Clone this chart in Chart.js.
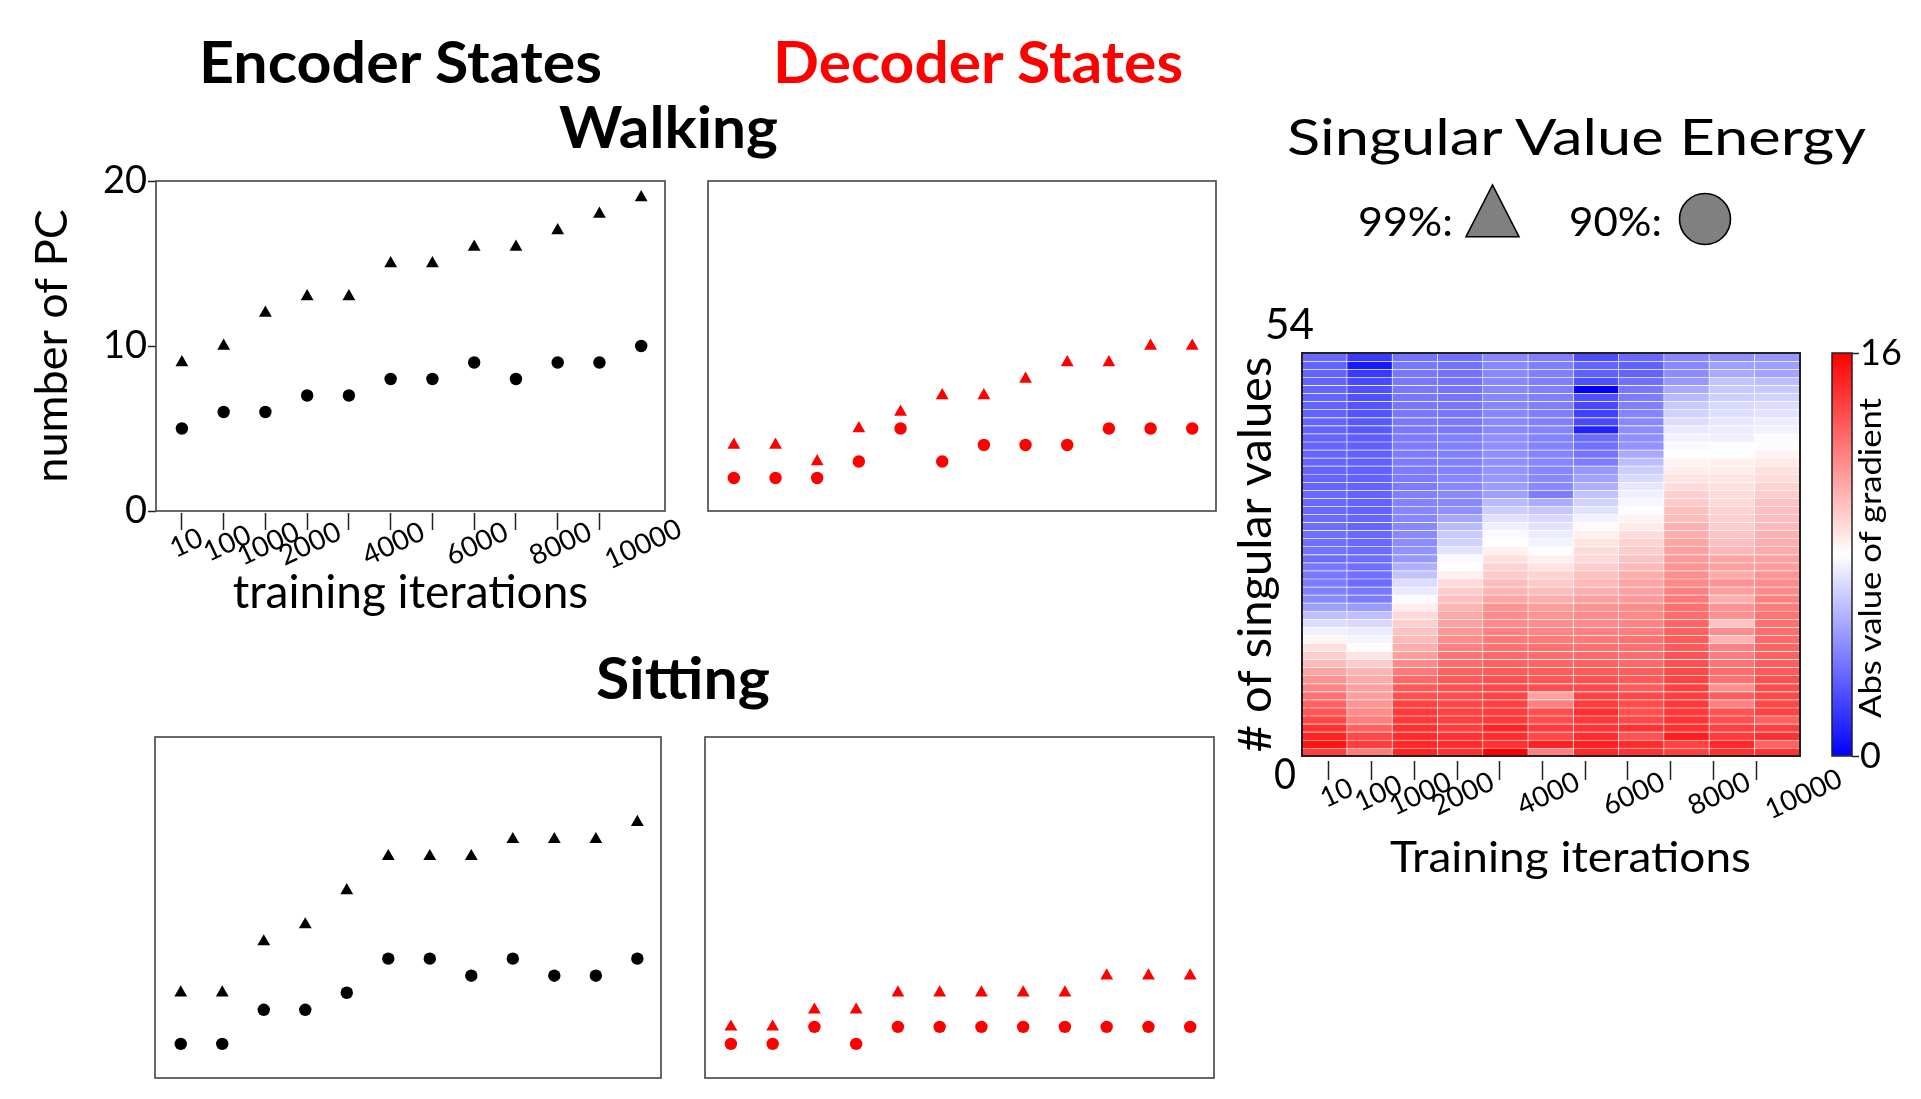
<!DOCTYPE html>
<html>
<head>
<meta charset="utf-8">
<script src="https://cdn.jsdelivr.net/npm/chart.js@4.4.1/dist/chart.umd.min.js"></script>
<style>
    body { margin: 0; background: #fff; }
    #wrap { position: relative; width: 1921px; height: 1099px; overflow: hidden; background: #fff; }
    #wrap canvas { position: absolute; }
    #overlay { position: absolute; left: 0; top: 0; z-index: 5; pointer-events: none; }
</style>
</head>
<body>
<div id="wrap">
    <canvas id="walkEnc" width="700" height="480" style="left:0px;top:150px"></canvas>
    <canvas id="walkDec" width="540" height="360" style="left:700px;top:170px"></canvas>
    <canvas id="sitEnc" width="540" height="379" style="left:140px;top:720px"></canvas>
    <canvas id="sitDec" width="540" height="379" style="left:690px;top:720px"></canvas>
    <canvas id="heat" width="680" height="600" style="left:1200px;top:300px"></canvas>
    <canvas id="cbar" width="100" height="500" style="left:1820px;top:300px"></canvas>
    <svg id="overlay" width="1921" height="1099"></svg>
</div>
<script>
// training iterations on the x axis (12 checkpoints), only some are labelled
const iterLabels = ['10', '100', '1000', '2000', '3000', '4000', '5000', '6000', '7000', '8000', '9000', '10000'];
const iterTickText = ['10', '100', '1000', '2000', '', '4000', '', '6000', '', '8000', '', '10000'];
const pcTicks = [0, 10, 20];

// number of PCs needed for 99% (triangles) and 90% (circles) of the energy
const walkEnc99 = [9, 10, 12, 13, 13, 15, 15, 16, 16, 17, 18, 19];
const walkEnc90 = [5, 6, 6, 7, 7, 8, 8, 9, 8, 9, 9, 10];
const walkDec99 = [4, 4, 3, 5, 6, 7, 7, 8, 9, 9, 10, 10];
const walkDec90 = [2, 2, 2, 3, 5, 3, 4, 4, 4, 5, 5, 5];
const sitEnc99 = [5, 5, 8, 9, 11, 13, 13, 13, 14, 14, 14, 15];
const sitEnc90 = [2, 2, 4, 4, 5, 7, 7, 6, 7, 6, 6, 7];
const sitDec99 = [3, 3, 4, 4, 5, 5, 5, 5, 5, 6, 6, 6];
const sitDec90 = [2, 2, 3, 2, 3, 3, 3, 3, 3, 3, 3, 3];

// heatmap: abs value of gradient per singular value, one array per column,
// listed from the top row (largest index) down to the bottom row
const gradMax = 16;
const svTopLabel = '54';
const svCol1 = [3.3, 3.1, 3.1, 3.1, 3.1, 3.1, 3.1, 3.1, 3.1, 3.1, 3.2, 3.2, 3.2, 3.2, 3.2, 3.2, 3.2, 3.3, 3.3, 3.3, 3.4, 3.4, 3.5, 3.5, 3.6,
    3.4, 3.8, 3.8, 3.9, 4.0, 4.3, 5.0, 6.0, 6.9, 7.5, 8.3, 9.0, 9.6, 10.2, 10.9, 11.4, 11.9, 12.5, 12.9, 13.3, 13.8, 14.5, 14.9, 15.4, 14.0];
const svCol2 = [1.8, 0.75, 1.8, 2.3, 2.5, 2.5, 2.6, 2.6, 2.75, 2.75, 2.9, 3.0, 3.0, 3.0, 3.0, 3.1, 3.1, 3.1, 3.1, 3.1, 3.2, 3.2, 3.3, 3.3, 3.4,
    3.45, 3.5, 3.55, 3.4, 3.75, 3.9, 4.8, 6.0, 6.8, 7.4, 7.65, 8.1, 8.9, 9.65, 10.35, 10.7, 11.0, 11.1, 11.35, 11.6, 12.0, 13.0, 13.75, 14.1, 12.1];
const svCol3 = [3.6, 3.75, 3.75, 3.75, 3.75, 3.75, 3.75, 3.75, 3.75, 3.8, 3.9, 3.9, 3.9, 3.9, 3.9, 3.9, 3.9, 4.0, 4.1, 4.25, 4.25, 4.25, 4.3, 4.4, 4.6,
    4.75, 5.5, 6.1, 6.9, 7.3, 7.9, 8.6, 9.2, 9.5, 9.9, 10.2, 10.6, 11.1, 11.7, 12.2, 12.7, 13.2, 13.5, 13.9, 14.2, 14.2, 14.5, 14.6, 14.7, 14.9];
const svCol4 = [3.5, 3.6, 3.6, 3.6, 3.6, 3.65, 3.7, 3.7, 3.75, 3.75, 4.0, 4.0, 4.0, 4.0, 4.1, 4.25, 4.25, 4.3, 4.3, 4.5, 5.2, 5.8, 6.3, 6.6, 7.1,
    7.8, 8.0, 8.5, 9.1, 9.6, 10.0, 10.4, 10.7, 11.0, 11.3, 11.6, 12.0, 12.4, 12.6, 13.0, 13.2, 13.5, 13.6, 13.7, 13.9, 14.0, 14.1, 14.4, 14.6, 14.4];
const svCol5 = [4.25, 4.25, 4.25, 4.25, 4.25, 4.25, 4.25, 4.25, 4.25, 4.3, 4.5, 4.5, 4.5, 4.5, 4.6, 4.7, 4.9, 5.0, 5.8, 6.4, 7.0, 7.5, 7.85, 8.0, 8.5,
    9.0, 9.4, 9.7, 10.1, 10.4, 10.9, 11.4, 11.6, 11.7, 12.0, 12.2, 12.5, 12.7, 13.0, 13.2, 13.5, 13.7, 13.9, 14.0, 14.1, 14.2, 14.9, 14.6, 14.4, 16.0];
const svCol6 = [4.0, 4.0, 4.0, 4.0, 4.0, 4.0, 4.0, 4.0, 4.0, 4.1, 4.1, 4.1, 4.1, 4.2, 4.2, 4.3, 4.3, 3.9, 5.4, 6.2, 6.8, 7.1, 7.4, 7.6, 8.1,
    8.5, 8.9, 9.4, 9.7, 10.1, 10.6, 11.1, 11.4, 11.6, 11.9, 12.2, 12.5, 12.6, 12.9, 13.1, 13.3, 13.6, 11.0, 12.0, 13.5, 13.6, 14.2, 13.7, 15.0, 12.0];
const svCol7 = [2.4, 3.1, 3.0, 2.5, 0.0, 2.5, 2.25, 2.0, 2.25, 1.0, 3.4, 3.5, 3.6, 3.9, 4.75, 5.1, 5.5, 6.1, 6.6, 7.1, 7.6, 8.2, 8.5, 8.9, 9.1,
    9.2, 9.6, 10.0, 10.2, 10.5, 11.0, 11.4, 11.6, 11.7, 12.0, 12.2, 12.5, 12.7, 13.0, 13.2, 13.4, 13.7, 13.9, 14.1, 14.5, 14.2, 14.4, 14.6, 15.0, 14.7];
const svCol8 = [3.25, 3.0, 3.1, 3.5, 3.75, 3.9, 4.0, 4.15, 4.25, 4.4, 4.5, 4.6, 5.3, 5.9, 6.4, 6.8, 7.2, 7.5, 7.75, 7.9, 8.4, 8.7, 9.1, 9.4, 9.6,
    9.9, 10.2, 10.6, 10.9, 11.0, 11.2, 11.6, 11.7, 11.9, 12.1, 12.5, 12.5, 12.6, 12.7, 13.1, 13.2, 13.1, 13.7, 13.6, 13.5, 13.7, 14.4, 13.4, 14.6, 14.4];
const svCol9 = [4.25, 4.25, 4.4, 4.75, 5.3, 5.8, 6.3, 6.6, 6.9, 7.3, 7.6, 7.8, 8.0, 8.4, 8.6, 8.9, 9.1, 9.5, 9.7, 10.0, 10.1, 10.5, 10.6, 10.9, 11.0,
    11.2, 11.4, 11.5, 11.7, 12.0, 12.2, 12.5, 12.6, 12.9, 13.0, 13.1, 13.2, 13.4, 13.5, 13.7, 13.9, 14.0, 14.1, 14.2, 14.2, 14.4, 14.5, 15.1, 13.9, 14.0];
const svCol10 = [4.5, 5.0, 5.3, 6.1, 6.3, 6.5, 6.8, 7.0, 7.25, 7.4, 7.5, 7.95, 8.0, 8.5, 8.6, 8.9, 9.0, 9.1, 9.2, 9.4, 9.55, 9.6, 9.9, 10.0, 10.25,
    10.9, 11.0, 10.7, 11.4, 11.1, 10.6, 11.4, 11.5, 9.9, 11.6, 10.4, 12.0, 12.1, 12.4, 12.6, 12.5, 11.5, 13.1, 12.0, 13.4, 13.5, 14.0, 14.1, 14.7, 14.5];
const svCol11 = [4.75, 5.0, 5.1, 5.9, 6.3, 6.6, 6.9, 7.1, 7.4, 7.6, 7.85, 8.1, 8.4, 8.7, 9.0, 9.1, 9.4, 9.6, 9.9, 10.0, 10.1, 10.2, 10.5, 10.6, 10.7,
    11.0, 11.1, 11.4, 11.6, 11.7, 12.0, 12.1, 12.4, 12.5, 12.6, 12.7, 12.9, 13.0, 13.1, 13.2, 13.5, 13.6, 13.7, 13.7, 13.9, 13.0, 14.0, 14.5, 12.9, 14.4];
const svColumns = [svCol1, svCol2, svCol3, svCol4, svCol5, svCol6, svCol7, svCol8, svCol9, svCol10, svCol11];

const fontFamily = 'Lato, "Noto Sans", sans-serif';
Chart.defaults.font.family = fontFamily;
Chart.defaults.color = '#000';

// blue-white-red colour map
function bwr(v) {
    const t = Math.max(0, Math.min(1, v / gradMax));
    if (t < 0.5) {
        const c = Math.round(510 * t);
        return `rgb(${c},${c},255)`;
    }
    const c = Math.round(510 * (1 - t));
    return `rgb(255,${c},${c})`;
}

// rotated tick labels are right aligned by Chart.js; trailing spaces make
// the short ones sit centred on their tick like the long ones
const tickFontSize = 28;
const measure = document.createElement('canvas').getContext('2d');
measure.font = tickFontSize + 'px ' + fontFamily;
const longestTick = Math.max(...iterTickText.map(t => measure.measureText(t).width));
const spaceWidth = measure.measureText(' ').width;
const tickShift = Math.cos(25 * Math.PI / 180) * longestTick / 2;
function centredTick(v, i) {
    const t = iterTickText[i];
    if (!t) return '';
    const n = Math.round((longestTick - measure.measureText(t).width) / 2 / spaceWidth);
    return t + ' '.repeat(n);
}

// box round the plot area
const framePlugin = {
    id: 'frame',
    afterDraw(chart, args, opts) {
        const { ctx, chartArea: a } = chart;
        ctx.save();
        ctx.strokeStyle = opts.color || '#444';
        ctx.lineWidth = opts.width || 1.5;
        ctx.strokeRect(a.left, a.top, a.right - a.left, a.bottom - a.top);
        ctx.restore();
    }
};

function markerSet(values, style, color) {
    return {
        data: values.map((v, i) => ({ x: i + 1, y: v })),
        pointStyle: style,
        pointRadius: style === 'triangle' ? 7.4 : 6.2,
        backgroundColor: color,
        borderColor: color,
        borderWidth: 0
    };
}

function iterTicks(scale) {
    scale.ticks = iterLabels.map((_, i) => ({ value: i + 1 }));
}

function pcChart(id, tri, dot, color, padding, withAxes) {
    const xAxis = { type: 'linear', min: 0.38, max: 12.57, display: false };
    const yAxis = { type: 'linear', min: 0, max: 20, display: false };
    if (withAxes) {
        Object.assign(xAxis, {
            display: true,
            afterBuildTicks: iterTicks,
            afterFit: s => { s.height = 119; },
            border: { display: false },
            grid: {
                drawOnChartArea: false, tickLength: 19, tickWidth: 1.5,
                tickBorderDash: [17, 100], tickBorderDashOffset: 115,
                tickColor: c => (c.index === iterLabels.length - 1 ? 'rgba(0,0,0,0)' : '#222')
            },
            ticks: {
                autoSkip: false, minRotation: 25, maxRotation: 25, padding: -18, labelOffset: tickShift + 2,
                font: { size: tickFontSize }, callback: centredTick
            },
            title: { display: true, text: 'training iterations', font: { size: 46 }, padding: { top: 0, bottom: 9 } }
        });
        Object.assign(yAxis, {
            display: true,
            afterBuildTicks: s => { s.ticks = pcTicks.map(v => ({ value: v })); },
            afterFit: s => { s.width = 156; },
            border: { display: false },
            grid: { drawOnChartArea: false, tickLength: 8, tickWidth: 1.5, tickColor: '#222' },
            ticks: { font: { size: 38 }, padding: 1 },
            title: { display: true, text: 'number of PC', font: { size: 45 }, padding: { top: 25, bottom: 0 } }
        });
    }
    return new Chart(document.getElementById(id), {
        type: 'scatter',
        data: { datasets: [markerSet(tri, 'triangle', color), markerSet(dot, 'circle', color)] },
        options: {
            responsive: false,
            animation: false,
            events: [],
            layout: { padding: padding },
            plugins: { legend: { display: false }, tooltip: { enabled: false }, frame: { color: '#444', width: 1.6 } },
            scales: { x: xAxis, y: yAxis }
        },
        plugins: [framePlugin]
    });
}

pcChart('walkEnc', walkEnc99, walkEnc90, '#000', { top: 31, right: 35, left: 0, bottom: 0 }, true);
pcChart('walkDec', walkDec99, walkDec90, '#ff0000', { top: 11, right: 24, left: 8, bottom: 19 }, false);
pcChart('sitEnc', sitEnc99, sitEnc90, '#000', { top: 17, right: 19, left: 15, bottom: 21 }, false);
pcChart('sitDec', sitDec99, sitDec90, '#ff0000', { top: 17, right: 16, left: 15, bottom: 21 }, false);

// heatmap as stacked bars, one dataset per singular value row (bottom first)
const svRows = svCol1.length;
const heatSets = [];
for (let r = 0; r < svRows; r++) {
    heatSets.push({
        data: svColumns.map(() => 1),
        backgroundColor: svColumns.map(col => bwr(col[svRows - 1 - r])),
        borderColor: 'rgba(255,255,255,0.13)',
        borderWidth: { top: 1, right: 1, bottom: 0, left: 0 },
        borderSkipped: false,
        barPercentage: 1,
        categoryPercentage: 1
    });
}

new Chart(document.getElementById('heat'), {
    type: 'bar',
    data: { labels: svColumns.map((_, i) => 'c' + (i + 1)), datasets: heatSets },
    options: {
        responsive: false,
        animation: false,
        events: [],
        layout: { padding: { top: 53, right: 80, left: 0, bottom: 0 } },
        plugins: { legend: { display: false }, tooltip: { enabled: false }, frame: { color: '#222', width: 2 } },
        scales: {
            x: { stacked: true, display: false },
            xIter: {
                type: 'linear', position: 'bottom', min: 0.368, max: 12.03, offset: false,
                afterBuildTicks: iterTicks,
                afterFit: s => { s.height = 144; },
                border: { display: false },
                grid: {
                    offset: false, drawOnChartArea: false, tickLength: 24, tickWidth: 1.5,
                    tickBorderDash: [19, 100], tickBorderDashOffset: 114,
                    tickColor: c => (c.index === iterLabels.length - 1 ? 'rgba(0,0,0,0)' : '#222')
                },
                ticks: {
                    autoSkip: false, minRotation: 25, maxRotation: 25, padding: -18, labelOffset: tickShift + 5,
                    font: { size: tickFontSize }, callback: centredTick
                }
            },
            y: {
                stacked: true, min: 0, max: svRows,
                afterFit: s => { s.width = 102; },
                border: { display: false },
                grid: { display: false },
                ticks: { display: false },
                title: { display: true, text: '# of singular values', font: { size: 47 }, padding: { top: 28, bottom: 0 } }
            }
        }
    },
    plugins: [framePlugin]
});

// colour bar
new Chart(document.getElementById('cbar'), {
    type: 'bar',
    data: {
        labels: ['grad'],
        datasets: [{
            data: [gradMax],
            barPercentage: 1,
            categoryPercentage: 1,
            backgroundColor: c => {
                const a = c.chart.chartArea;
                if (!a) return '#fff';
                const g = c.chart.ctx.createLinearGradient(0, a.bottom, 0, a.top);
                g.addColorStop(0, bwr(0));
                g.addColorStop(0.5, bwr(gradMax / 2));
                g.addColorStop(1, bwr(gradMax));
                return g;
            }
        }]
    },
    options: {
        responsive: false,
        animation: false,
        events: [],
        layout: { padding: { top: 53, right: 0, left: 12, bottom: 44 } },
        plugins: { legend: { display: false }, tooltip: { enabled: false }, frame: { color: '#222', width: 1.5 } },
        scales: {
            x: { display: false },
            y: {
                position: 'right', min: 0, max: gradMax,
                afterBuildTicks: s => { s.ticks = [0, gradMax].map(v => ({ value: v })); },
                afterFit: s => { s.width = 68; },
                border: { display: false },
                grid: { drawOnChartArea: false, tickLength: 7, tickWidth: 1.5, tickColor: '#222' },
                ticks: { font: { size: 36 }, padding: 1 }
            }
        }
    },
    plugins: [framePlugin]
});

// titles, legend and loose labels
const texts = [
    { t: 'Encoder States', x: 400.5, y: 82.7, size: 58, bold: true, fill: '#000', len: 403 },
    { t: 'Decoder States', x: 978, y: 82.7, size: 58, bold: true, fill: '#ff0000', len: 410 },
    { t: 'Walking', x: 668.5, y: 148, size: 58, bold: true, fill: '#000', len: 219 },
    { t: 'Sitting', x: 683, y: 699, size: 58, bold: true, fill: '#000', len: 174 },
    { t: 'Singular Value Energy', x: 1576.5, y: 155, size: 50, fill: '#000', len: 579 },
    { t: '99%:', x: 1405.5, y: 236, size: 41, fill: '#000', len: 95 },
    { t: '90%:', x: 1615.5, y: 236, size: 41, fill: '#000', len: 93 },
    { t: svTopLabel, x: 1289.5, y: 339, size: 42, fill: '#000', len: 49 },
    { t: '0', x: 1285, y: 789, size: 42, fill: '#000', len: 22 },
    { t: 'Training iterations', x: 1570.5, y: 872, size: 42, fill: '#000', len: 361 },
    { t: 'Abs value of gradient', x: 1881, y: 558, size: 30, fill: '#000', len: 320, rot: -90 }
];

let svg = '';
texts.forEach(d => {
    const rot = d.rot ? ` transform="rotate(${d.rot} ${d.x} ${d.y})"` : '';
    svg += `<text x="${d.x}" y="${d.y}" text-anchor="middle" font-family="Lato, 'Noto Sans', sans-serif" ` +
        `font-size="${d.size}" font-weight="${d.bold ? 700 : 400}" fill="${d.fill}" ` +
        `textLength="${d.len}" lengthAdjust="spacingAndGlyphs"${rot}>${d.t}</text>`;
});
svg += '<polygon points="1466,236.7 1519,236.7 1492.5,185" fill="#808080" stroke="#000" stroke-width="1.6"/>';
svg += '<circle cx="1705" cy="219" r="25.5" fill="#808080" stroke="#000" stroke-width="1.6"/>';
document.getElementById('overlay').innerHTML = svg;
</script>
</body>
</html>
